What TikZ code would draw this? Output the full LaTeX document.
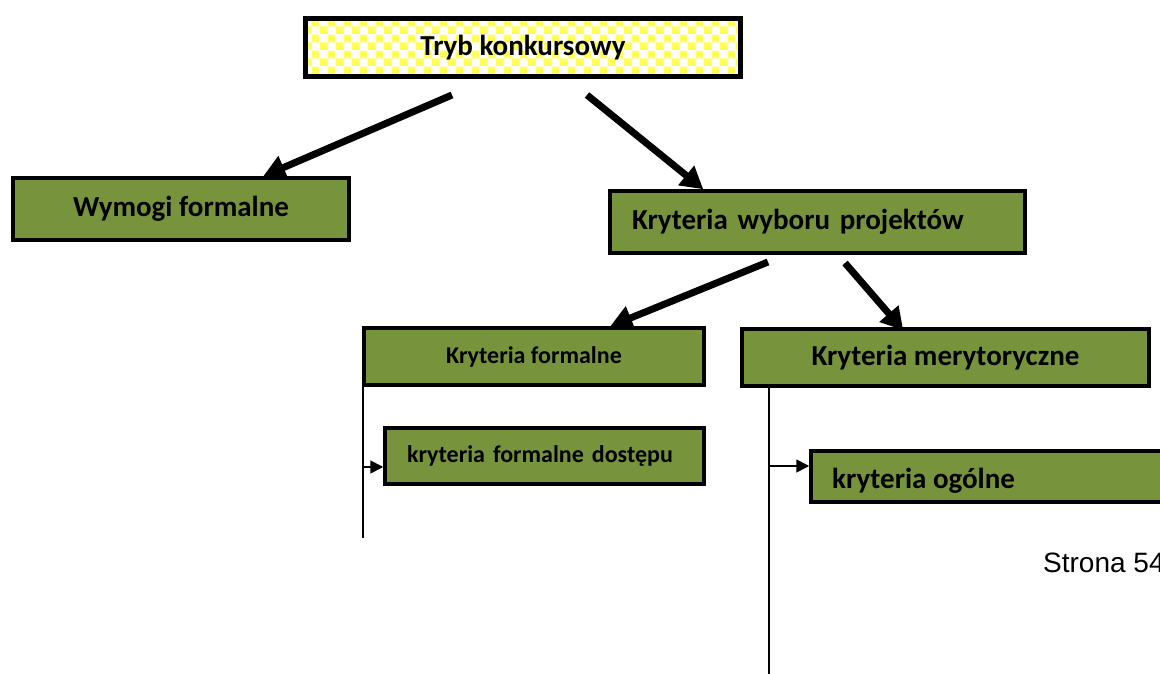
\documentclass[tikz,border=0pt]{standalone}
\usepackage{fontspec}
\setmainfont{Carlito}
\newfontfamily\arialfont{Liberation Sans}
\usepackage{xcolor}
\usetikzlibrary{positioning,calc,arrows.meta,patterns.meta}
\definecolor{boxgreen}{HTML}{77933C}
\definecolor{checkyellow}{HTML}{FFFF55}
\tikzdeclarepattern{
  name=bigchecker,
  type=uncolored,
  bounding box={(0pt,0pt) and (16pt,16pt)},
  tile size={(16pt,16pt)},
  code={
    \fill (0pt,0pt) rectangle (8pt,8pt);
    \fill (8pt,8pt) rectangle (16pt,16pt);
  }
}
\newcommand{\bigtxt}{\bfseries\fontsize{29}{34}\selectfont}
\newcommand{\smalltxt}{\bfseries\fontsize{24}{28}\selectfont}

\begin{document}
\begin{tikzpicture}[x=1pt,y=-1pt,
    gbox/.style={draw, line width=3.5pt, fill=boxgreen, inner sep=0pt, font=\bigtxt},
    ybox/.style={draw, line width=5pt, pattern=bigchecker, pattern color=checkyellow, inner sep=0pt, font=\bigtxt},
    bigarrow/.style={line width=7pt, -{Triangle[length=22pt,width=24pt]}},
    smallarrow/.style={line width=1.6pt, -{Triangle[length=13pt,width=13pt]}},
    branch/.style={line width=1.6pt}]
    \useasboundingbox (0,0) rectangle (1160,674);
    \clip (0,0) rectangle (1160,674);

    % boxes
    \node[ybox, minimum width=435pt, minimum height=58pt] (tryb) at (523,47.5) {Tryb konkursowy};
    \node[gbox, minimum width=336pt, minimum height=62pt] (wym) at (181,209) {Wymogi formalne};
    \node[gbox, text width=371pt, inner xsep=22pt, align=left, minimum height=62pt] (kw) at (817.5,222) {Kryteria wyboru projektów};
    \node[gbox, font=\smalltxt, minimum width=340pt, minimum height=57pt] (kf) at (534,356.5) {Kryteria formalne};
    \node[gbox, minimum width=407pt, minimum height=57pt] (mer) at (945.5,357.5) {Kryteria merytoryczne};
    \node[gbox, font=\smalltxt, text width=275pt, inner xsep=22pt, align=left, minimum height=56pt] (kfd) at (544.5,456) {kryteria formalne dostępu};
    \node[gbox, minimum width=389pt, minimum height=51pt] (ogol) at (1005.5,476.5) {};
    \begin{scope}
      \clip (811,451) rectangle (1160,492);
      \node[anchor=base west, font=\bigtxt, inner sep=0pt] (ogoltxt) at (832,488) {kryteria ogólne};
    \end{scope}
    \node[anchor=base west, font=\arialfont\fontsize{28}{33}\selectfont, inner sep=0pt] (page) at (1043,572) {Strona 54};

    % thick arrows
    \coordinate (t1) at (452,95);
    \coordinate (t2) at (587,95);
    \coordinate (k1) at (768,262);
    \coordinate (k2) at (845,263);
    \draw[bigarrow] (t1) -- ([xshift=252pt]wym.north west);
    \draw[bigarrow] (t2) -- ([xshift=95pt]kw.north west);
    \draw[bigarrow] (k1) -- ([xshift=248pt]kf.north west);
    \draw[bigarrow] (k2) -- ([xshift=163pt,yshift=-3pt]mer.north west);

    % branches
    \coordinate (ftop) at ([xshift=0.75pt]kf.south west);
    \draw[branch] (ftop) -- (ftop |- 0,538);
    \draw[smallarrow] (ftop |- 0,467) -- (kfd.west |- 0,467);
    \coordinate (mtop) at ([xshift=29pt]mer.south west);
    \draw[branch] (mtop) -- (mtop |- 0,680);
    \draw[smallarrow] (mtop |- 0,466) -- (ogol.west |- 0,466);
\end{tikzpicture}
\end{document}
